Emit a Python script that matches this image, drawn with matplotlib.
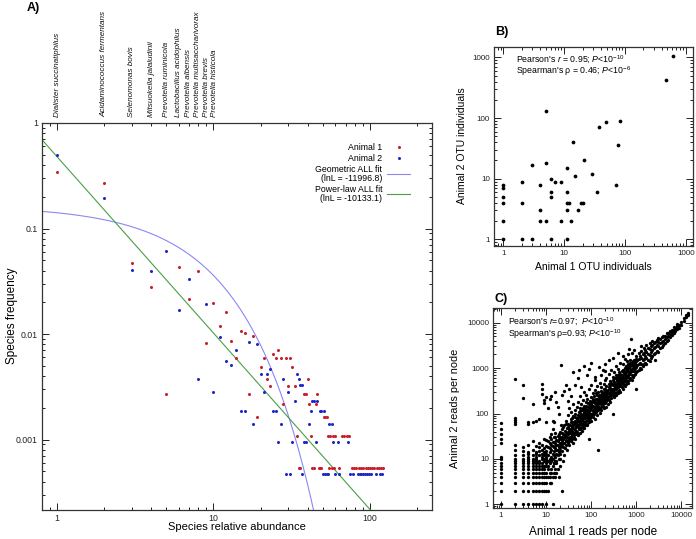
import numpy as np
import matplotlib
matplotlib.use('Agg')
import matplotlib.pyplot as plt
from matplotlib.ticker import FuncFormatter, NullFormatter, LogLocator
from matplotlib.transforms import blended_transform_factory

plt.rcParams['font.family'] = ['Liberation Sans', 'DejaVu Sans']
plt.rcParams['mathtext.fontset'] = 'custom'
plt.rcParams['mathtext.rm'] = 'Liberation Sans'
plt.rcParams['mathtext.it'] = 'Liberation Sans:italic'
plt.rcParams['mathtext.bf'] = 'Liberation Sans:bold'

# ---------------- Panel A data ----------------
a1_abund = [1, 2, 3, 4, 5, 6, 7, 8, 9, 10, 11, 12, 13, 14, 15, 16, 17, 18, 19, 20,
            21, 22, 23, 24, 25, 26, 27, 28, 29, 30, 31, 32, 33, 34, 35, 36, 38, 39, 40, 41,
            42, 43, 44, 45, 46, 47, 48, 49, 51, 52, 53, 54, 55, 56, 57, 58, 59, 60, 64, 66,
            68, 71, 74, 77, 79, 82, 85, 88, 91, 94, 97, 100, 103, 107, 111, 114, 118, 121]
a1_freq = [0.346, 0.27, 0.0474, 0.0277, 0.0027, 0.0435, 0.0216, 0.0395, 0.0082, 0.0195,
           0.0119, 0.0162, 0.00865, 0.00593, 0.0107, 0.0103, 0.0027, 0.00964, 0.00162, 0.00486,
           0.00595, 0.00378, 0.00324, 0.00649, 0.00595, 0.00703, 0.00595, 0.00216, 0.00595, 0.00324,
           0.00595, 0.00486, 0.00324, 0.00108, 0.00054, 0.00054, 0.0027, 0.0027, 0.00378, 0.00216,
           0.00108, 0.00054, 0.00054, 0.00216, 0.0027, 0.00054, 0.00054, 0.00054, 0.00162, 0.00162,
           0.00162, 0.00108, 0.00054, 0.00108, 0.00054, 0.00108, 0.00054, 0.00108, 0.00054, 0.00108,
           0.00108, 0.00108, 0.00108, 0.00054, 0.00054, 0.00054, 0.00054, 0.00054, 0.00054, 0.00054,
           0.00054, 0.00054, 0.00054, 0.00054, 0.00054, 0.00054, 0.00054, 0.00054]

a2_abund = [1, 2, 3, 4, 5, 6, 7, 8, 9, 10, 11, 12, 13, 14, 15, 16, 17, 18, 19, 20,
            21, 22, 23, 24, 25, 26, 27, 28, 29, 30, 31, 32, 33, 34, 35, 36, 37, 37, 38, 39,
            41, 42, 43, 44, 45, 46, 48, 49, 50, 51, 52, 53, 54, 55, 57, 58, 60, 63, 64, 73,
            75, 78, 84, 86, 88, 90, 93, 96, 99, 102, 110, 116, 120]
a2_freq = [0.494, 0.193, 0.0404, 0.040, 0.0612, 0.0168, 0.033, 0.00374, 0.0191, 0.0028,
           0.0093, 0.00558, 0.00508, 0.0070, 0.00187, 0.00187, 0.00842, 0.0014, 0.00796, 0.00421,
           0.0028, 0.00421, 0.00468, 0.00187, 0.00187, 0.00094, 0.0014, 0.00374, 0.00047, 0.0028,
           0.00047, 0.00094, 0.00234, 0.00421, 0.00374, 0.00328, 0.00328, 0.00047, 0.00094, 0.00094,
           0.0014, 0.00187, 0.00234, 0.00234, 0.00094, 0.00234, 0.00187, 0.00187, 0.00047, 0.00187,
           0.00047, 0.00047, 0.00047, 0.0014, 0.0014, 0.00094, 0.00047, 0.00094, 0.00047, 0.00094,
           0.00047, 0.00047, 0.00047, 0.00047, 0.00047, 0.00047, 0.00047, 0.00047, 0.00047, 0.00047,
           0.00047, 0.00047, 0.00047]

# positions of the species names along the top axis
species_pos = [1, 2, 3, 4, 4.97, 5.98, 6.95, 7.95, 9.0, 10.15]
species_names = ['Dialister succinatiphilus', 'Acidaminococcus fermentans', 'Selenomonas bovis',
                 'Mitsuokella jalaludinii', 'Prevotella ruminicola', 'Lactobacillus acidophilus',
                 'Prevotella albensis', 'Prevotella multisaccharivorax', 'Prevotella brevis',
                 'Prevotella histicola']

geo_p = 0.141        # geometric fit parameter
pow_alpha = 1.67     # power-law exponent
pow_c = 0.478        # power-law normalisation

# ---------------- Panel B data ----------------
b_x = [620, 480, 5, 38, 49, 84, 14, 77, 21, 3, 5, 11, 29, 15, 6, 7, 9, 2, 1, 1,
       1, 1, 1, 1, 4, 70, 6, 6, 11, 35, 11, 12, 19, 20, 2, 4, 11, 17, 4, 5,
       9, 13, 2, 3, 6, 11]
b_y = [1050, 420, 130, 71, 87, 88, 41, 36, 20, 17, 18, 15, 12, 11, 10, 9, 9, 9, 8, 7,
       5, 4, 2, 1, 8, 8, 6, 5, 6, 6, 4, 4, 4, 4, 4, 3, 3, 3, 2, 2,
       2, 2, 1, 1, 1, 1]

# ---------------- Panel C data ----------------
c_grid_x = ([1, 2, 3, 4, 5, 6, 7, 8, 10, 14] +
            [1, 2, 3, 4, 5, 6, 7, 8, 9, 10, 11, 22] +
            [1, 2, 3, 4, 5, 6, 7, 8, 9, 10, 12, 13] +
            [1, 2, 3, 4, 5, 6, 7, 8, 9, 10, 11, 12, 14, 16, 19] +
            [1, 2, 3, 4, 5, 6, 7, 8, 9, 10, 12, 13, 15, 17] +
            [1, 2, 3, 4, 5, 6, 7, 8, 9, 11, 13, 16, 18] +
            [1, 2, 3, 4, 5, 6, 7, 8, 9, 10, 11, 14, 20] +
            [1, 2, 3, 4, 5, 6, 7, 8, 10, 12, 15, 17] +
            [2, 3, 4, 5, 6, 7, 9, 10, 11, 13, 16, 24] +
            [1, 2, 3, 4, 5, 6, 8, 9, 10, 12, 14, 20])
c_grid_y = ([1] * 10 + [2] * 12 + [3] * 12 + [4] * 15 + [5] * 14 +
            [6] * 13 + [7] * 13 + [8] * 12 + [9] * 12 + [10] * 12)

c_low = [(3, 12), (3, 15), (3, 18), (4, 11), (4, 13), (4, 14), (4, 20), (5, 12), (5, 16), (5, 25),
         (6, 11), (6, 13), (6, 14), (6, 19), (7, 12), (7, 15), (7, 18), (7, 23), (8, 11), (8, 13),
         (8, 16), (8, 20), (9, 12), (9, 14), (9, 17), (9, 28), (10, 11), (10, 13), (10, 15), (10, 19),
         (10, 26), (11, 12), (11, 18), (12, 9), (12, 14), (12, 22), (13, 11), (13, 16), (13, 27), (14, 10),
         (14, 13), (14, 19), (15, 8), (15, 12), (15, 15), (15, 24), (16, 11), (16, 17), (16, 30), (17, 9),
         (17, 13), (17, 20), (18, 12), (18, 16), (18, 25), (19, 10), (19, 14), (19, 35), (20, 13), (20, 18),
         (20, 22), (20, 40), (1, 11), (1, 22), (1, 28), (1, 35), (1, 45), (1, 63), (2, 12), (2, 16), (2, 20)]

c_high = [(2, 60), (2, 65), (2, 72), (2, 78), (2, 575), (3, 220), (3, 425), (4, 60), (4, 64), (5, 65),
          (5, 160), (6, 70), (7, 75), (8, 270), (8, 345), (8, 440), (9, 170), (9, 200), (10, 230), (10, 65),
          (11, 130), (12, 210), (13, 240), (14, 70), (15, 65), (16, 300), (17, 180), (18, 140), (19, 100),
          (21, 1150), (22, 260), (25, 310), (28, 420), (30, 190), (32, 350), (35, 240), (40, 800), (45, 420),
          (50, 600), (55, 900), (60, 380), (70, 1100), (80, 700), (90, 950), (100, 1300), (120, 650),
          (150, 1050), (180, 900), (200, 1200), (250, 1500), (300, 1700), (400, 2200), (500, 1800),
          (700, 2600), (775, 4400), (140, 16), (90, 27)]

c_band = [(22, 15), (22, 24), (22, 30), (22, 45), (24, 18), (24, 28), (24, 36), (25, 12), (25, 22), (25, 33),
          (25, 55), (27, 20), (27, 26), (27, 40), (27, 70), (29, 16), (29, 30), (29, 48), (30, 24), (30, 35),
          (30, 60), (30, 95), (32, 20), (32, 28), (32, 42), (32, 130), (34, 30), (34, 38), (34, 55), (36, 25),
          (36, 45), (36, 65), (36, 110), (38, 33), (38, 50), (38, 80), (40, 22), (40, 40), (40, 58), (40, 90),
          (40, 160), (43, 35), (43, 48), (43, 70), (43, 120), (45, 28), (45, 55), (45, 85), (48, 40), (48, 60),
          (48, 75), (48, 140), (50, 33), (50, 50), (50, 95), (50, 180), (53, 45), (53, 68), (53, 110), (56, 38),
          (56, 58), (56, 80), (56, 130), (56, 240), (60, 50), (60, 72), (60, 100), (60, 160), (63, 42), (63, 85),
          (63, 120), (66, 55), (66, 78), (66, 95), (66, 200), (70, 48), (70, 65), (70, 110), (70, 150), (70, 300),
          (74, 60), (74, 90), (74, 130), (78, 70), (78, 100), (78, 180), (78, 260), (82, 55), (82, 85), (82, 120),
          (82, 210), (86, 75), (86, 110), (86, 140), (90, 65), (90, 95), (90, 160), (90, 350), (95, 80), (95, 120),
          (95, 190), (100, 70), (100, 100), (100, 130), (100, 230), (100, 420), (105, 90), (105, 150), (105, 180),
          (110, 85), (110, 115), (110, 200), (110, 280), (115, 100), (115, 140), (115, 240), (120, 75), (120, 130),
          (120, 170), (120, 330), (120, 560), (127, 110), (127, 150), (127, 210), (135, 95), (135, 160), (135, 260),
          (135, 400), (140, 120), (140, 190), (140, 300), (148, 130), (148, 170), (148, 220), (155, 105), (155, 180),
          (155, 250), (155, 480), (163, 140), (163, 200), (163, 320), (170, 120), (170, 160), (170, 230), (170, 380),
          (170, 700), (180, 150), (180, 210), (180, 270), (190, 130), (190, 190), (190, 300), (190, 450), (200, 170),
          (200, 240), (200, 350), (200, 550), (200, 850), (210, 140), (210, 220), (210, 290), (220, 190), (220, 260),
          (220, 400), (220, 620), (235, 160), (235, 230), (235, 330), (250, 200), (250, 280), (250, 450), (250, 750),
          (265, 180), (265, 250), (265, 360), (265, 520), (280, 220), (280, 310), (280, 480), (280, 900), (300, 100),
          (300, 250), (300, 350), (300, 420), (300, 650), (320, 230), (320, 300), (320, 500), (320, 800), (340, 280),
          (340, 380), (340, 600), (360, 250), (360, 340), (360, 450), (360, 700), (360, 1100), (380, 300), (380, 420),
          (380, 560), (400, 280), (400, 380), (400, 500), (400, 650), (400, 950), (425, 330), (425, 450), (425, 600),
          (425, 800), (450, 300), (450, 400), (450, 550), (450, 750), (450, 1300), (480, 380), (480, 500), (480, 700),
          (500, 350), (500, 450), (500, 620), (500, 900), (500, 1200), (530, 420), (530, 560), (530, 780), (560, 400),
          (560, 520), (560, 700), (560, 1000), (560, 1600), (600, 450), (600, 600), (600, 800), (600, 1100), (630, 520),
          (630, 680), (630, 900), (630, 1400), (670, 480), (670, 650), (670, 850), (670, 1200), (670, 2000), (710, 560),
          (710, 750), (710, 1000), (750, 600), (750, 800), (750, 1100), (750, 1500), (800, 550), (800, 700), (800, 950),
          (800, 1300), (800, 2200), (850, 650), (850, 900), (850, 1200), (900, 700), (900, 850), (900, 1100),
          (900, 1500), (900, 2500), (950, 750), (950, 1000), (950, 1300), (1000, 350), (1000, 800), (1000, 1050),
          (1000, 1400), (1000, 1800), (1070, 850), (1070, 1150), (1070, 1500), (1150, 900), (1150, 1200),
          (1150, 1600), (1150, 2200), (1230, 1000), (1230, 1300), (1230, 1800), (1300, 950), (1300, 1250),
          (1300, 1700), (1300, 2400), (1300, 3000), (1400, 1100), (1400, 1500), (1400, 2000), (1500, 1200),
          (1500, 1600), (1500, 2200), (1500, 2800), (1600, 1300), (1600, 1800), (1600, 2500), (1700, 1250),
          (1700, 1700), (1700, 2300), (1700, 3200), (1850, 1500), (1850, 2000), (1850, 2700), (2000, 1400),
          (2000, 1900), (2000, 2600), (2000, 3500), (2150, 1700), (2150, 2300), (2150, 3000), (2300, 1800),
          (2300, 2500), (2300, 3300), (2300, 4000), (2500, 2000), (2500, 2700), (2500, 3500), (2700, 1500),
          (2700, 2200), (2700, 2900), (2700, 3800), (2900, 2400), (2900, 3200), (2900, 4200), (3100, 2300),
          (3100, 3000), (3100, 3700), (3100, 4500), (3400, 2700), (3400, 3500), (3400, 4300), (3700, 2900),
          (3700, 3800), (3700, 4800), (4000, 3200), (4000, 4000), (4000, 5000), (4400, 3500), (4400, 4300),
          (4400, 5200), (4800, 4000), (4800, 4800), (4800, 5800), (5200, 4200), (5200, 5200), (5200, 6000),
          (5700, 4800), (5700, 5600), (5700, 6500), (6200, 5300), (6200, 6200), (6200, 7000), (6800, 6000),
          (6800, 7000), (6800, 8000), (7500, 6500), (7500, 7800), (8200, 7200), (8200, 8500), (8200, 9500),
          (9000, 7800), (9000, 9000), (10000, 9000), (10000, 10500), (11500, 11000), (11500, 12500),
          (13000, 13000), (13000, 15000), (14500, 14500), (14500, 16000)]

c_dense = [(11, 25), (12, 17), (12, 30), (13, 20), (13, 35), (14, 24), (14, 45), (15, 18), (15, 30), (16, 22),
           (16, 38), (17, 16), (17, 26), (18, 20), (18, 32), (19, 18), (19, 27), (20, 16), (20, 30), (21, 20),
           (21, 28), (21, 55), (23, 19), (23, 26), (23, 38), (24, 22), (24, 50), (26, 17), (26, 30), (26, 42),
           (28, 25), (28, 35), (28, 60), (31, 22), (31, 38), (31, 50), (33, 26), (33, 45), (35, 30), (35, 42),
           (35, 75), (37, 28), (37, 52), (39, 36), (39, 65), (42, 30), (42, 45), (42, 62), (44, 38), (44, 100),
           (46, 42), (46, 66), (47, 52), (49, 35), (49, 80), (52, 55), (52, 70), (54, 48), (54, 90), (58, 45),
           (58, 65), (58, 115), (62, 58), (62, 90), (65, 48), (65, 70), (65, 135), (68, 60), (68, 100), (72, 55),
           (72, 80), (72, 120), (76, 85), (76, 150), (80, 60), (80, 90), (80, 110), (84, 95), (84, 170), (88, 70),
           (88, 130), (92, 85), (92, 110), (97, 100), (97, 140), (102, 90), (102, 160), (108, 120), (108, 210),
           (112, 100), (112, 150), (118, 110), (118, 180), (124, 140), (124, 200), (130, 120), (130, 170),
           (130, 280), (138, 140), (138, 210), (145, 150), (145, 190), (150, 130), (150, 240), (160, 170),
           (160, 260), (175, 190), (175, 280), (185, 170), (185, 240), (195, 220), (195, 350), (205, 200),
           (205, 260), (215, 240), (215, 320), (230, 210), (230, 290), (245, 240), (245, 380), (260, 280),
           (260, 420), (275, 260), (275, 350), (290, 300), (290, 450), (310, 330), (310, 550), (330, 350),
           (330, 420), (350, 400), (350, 600), (370, 380), (370, 520), (390, 450), (390, 700), (410, 420),
           (410, 560), (440, 480), (440, 650), (470, 450), (470, 600), (490, 550), (490, 850), (520, 500),
           (520, 650), (550, 600), (550, 850), (580, 560), (580, 750), (620, 650), (620, 900), (650, 700),
           (650, 1000), (690, 750), (690, 1100), (730, 800), (730, 1300), (770, 900), (770, 1200), (820, 850),
           (820, 1150), (870, 1000), (870, 1400), (920, 950), (920, 1250), (980, 1100), (980, 1600)]

# ---------------- Figure ----------------
W, H = 696, 539
fig = plt.figure(figsize=(W / 100, H / 100), dpi=100)


def add_ax(l, t, r, b):
    return fig.add_axes([l / W, 1 - b / H, (r - l) / W, (b - t) / H])


fmt = FuncFormatter(lambda v, _: f'{v:g}')


def style_log(ax, labelsize=5.5):
    ax.set_xscale('log')
    ax.set_yscale('log')
    for a in (ax.xaxis, ax.yaxis):
        a.set_major_locator(LogLocator(base=10, numticks=20))
        a.set_minor_locator(LogLocator(base=10, subs=np.arange(2, 10), numticks=20))
        a.set_major_formatter(fmt)
        a.set_minor_formatter(NullFormatter())
    ax.tick_params(which='both', direction='in', top=True, right=True, width=0.7,
                   colors='#222222', labelsize=labelsize, labelcolor='#222222')
    ax.tick_params(which='major', length=5, pad=3)
    ax.tick_params(which='minor', length=2.5)
    for s in ax.spines.values():
        s.set_linewidth(0.9)
        s.set_color('#333333')


# Panel A
axA = add_ax(42, 123, 432, 510)
style_log(axA, 6.3)
xg = np.logspace(np.log10(0.8), np.log10(250), 500)
axA.plot(a1_abund, a1_freq, 'o', ms=2.2, color='#c8202a', mec='none', label='Animal 1', zorder=3)
axA.plot(a2_abund, a2_freq, 'o', ms=2.2, color='#1f26c8', mec='none', label='Animal 2', zorder=3)
axA.plot(xg, geo_p * (1 - geo_p) ** (xg - 1), color='#8c88f2', lw=0.8,
         label='Geometric ALL fit\n(lnL = -11996.8)', zorder=2)
axA.plot(xg, pow_c * xg ** (-pow_alpha), color='#4a9f45', lw=0.8,
         label='Power-law ALL fit\n(lnL = -10133.1)', zorder=2)
axA.set_xlim(0.8, 250)
axA.set_ylim(2.15e-4, 1.0)
leg = axA.legend(loc='upper right', bbox_to_anchor=(0.944, 0.948), frameon=False, markerfirst=False,
                 fontsize=6.3, handlelength=2.6, handletextpad=0.6, labelspacing=0.2, numpoints=1,
                 borderaxespad=0, borderpad=0)
for t in leg.get_texts():
    t.set_multialignment('right')
    t.set_linespacing(1.05)

trans = blended_transform_factory(axA.transData, axA.transAxes)
for k, name in zip(species_pos, species_names):
    axA.text(k, 1.016, name, transform=trans, rotation=90, ha='center', va='bottom',
             fontsize=5.9, style='italic', color='#111111', clip_on=False)

fig.text(237 / W, 1 - 527 / H, 'Species relative abundance', ha='center', va='center', fontsize=8)
fig.text(12 / W, 1 - 316 / H, 'Species frequency', ha='center', va='center', rotation=90, fontsize=8.5)
fig.text(27 / W, 1 - 8 / H, 'A)', ha='left', va='center', fontsize=9, fontweight='bold')

# Panel B
axB = add_ax(494, 46.7, 692.7, 246)
style_log(axB, 5.8)
axB.plot(b_x, b_y, 'o', ms=2.7, color='black', mec='none')
axB.set_xlim(0.7, 1300)
axB.set_ylim(0.78, 1500)
axB.text(0.11, 0.935, "Pearson's $r$ = 0.95; $P$<$10^{-10}$", transform=axB.transAxes,
         fontsize=6.3, va='center', ha='left')
axB.text(0.11, 0.875, "Spearman's ρ = 0.46; $P$<$10^{-6}$", transform=axB.transAxes,
         fontsize=6.3, va='center', ha='left')
fig.text(593 / W, 1 - 267 / H, 'Animal 1 OTU individuals', ha='center', va='center', fontsize=7.5)
fig.text(462 / W, 1 - 146 / H, 'Animal 2 OTU individuals', ha='center', va='center', rotation=90, fontsize=7.5)
fig.text(495 / W, 1 - 32 / H, 'B)', ha='left', va='center', fontsize=9, fontweight='bold')

# Panel C
axC = add_ax(493.3, 308.3, 692.3, 508.3)
style_log(axC, 5.8)
cx = (c_grid_x + [p[0] for p in c_low] + [p[0] for p in c_high] + [p[0] for p in c_band]
      + [p[0] for p in c_dense])
cy = (c_grid_y + [p[1] for p in c_low] + [p[1] for p in c_high] + [p[1] for p in c_band]
      + [p[1] for p in c_dense])
axC.plot(cx, cy, 'o', ms=2.4, color='black', mec='none')
axC.set_xlim(0.67, 17800)
axC.set_ylim(0.82, 20700)
axC.text(0.074, 0.93, "Pearson's $r$=0.97;  $P$<$10^{-10}$", transform=axC.transAxes,
         fontsize=6.3, va='center', ha='left')
axC.text(0.074, 0.872, "Spearman's ρ=0.93; $P$<$10^{-10}$", transform=axC.transAxes,
         fontsize=6.3, va='center', ha='left')
fig.text(593 / W, 1 - 532 / H, 'Animal 1 reads per node', ha='center', va='center', fontsize=8.5)
fig.text(455 / W, 1 - 408 / H, 'Animal 2 reads per node', ha='center', va='center', rotation=90, fontsize=7.8)
fig.text(495 / W, 1 - 299 / H, 'C)', ha='left', va='center', fontsize=9, fontweight='bold')

fig.savefig('out.png', dpi=100)
